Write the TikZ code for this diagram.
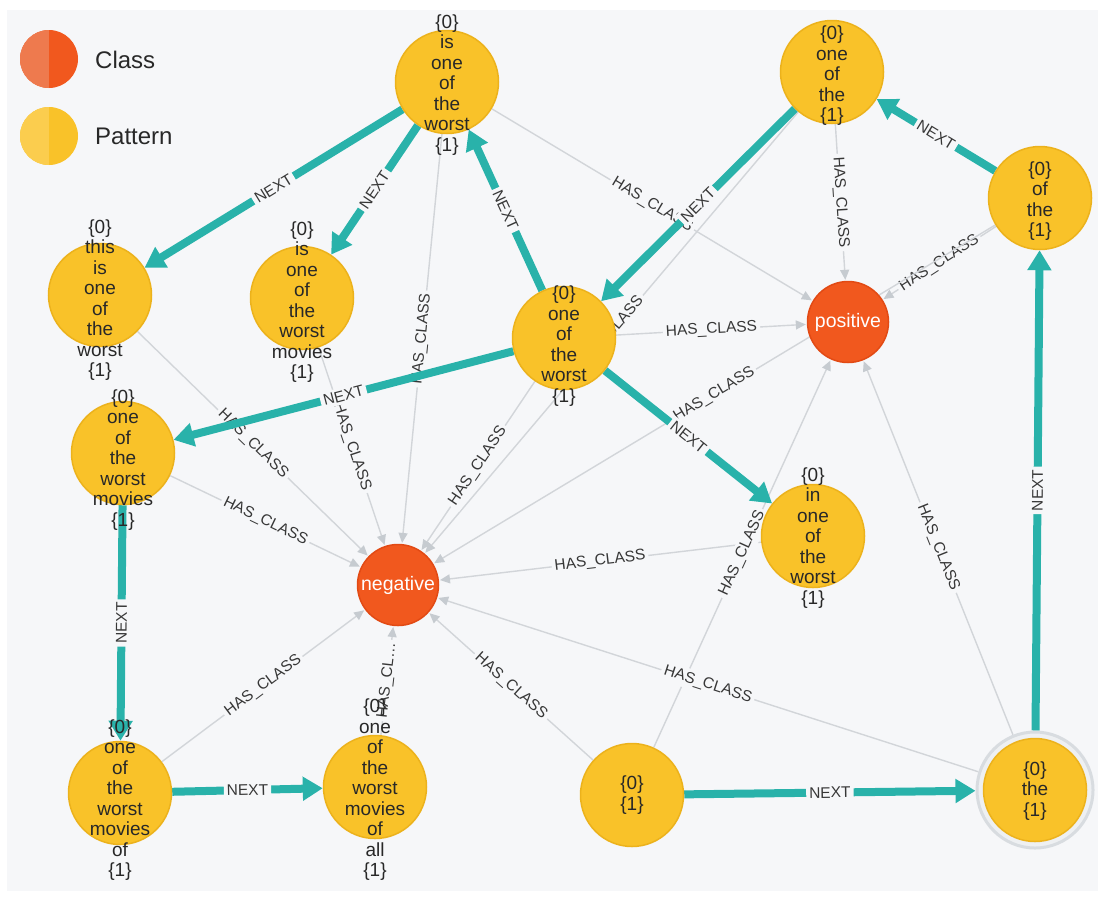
\documentclass[tikz,border=0pt]{standalone}
\usepackage{fontspec}
\setmainfont{Liberation Sans}
\usetikzlibrary{arrows.meta}
\definecolor{bg}{RGB}{246,247,249}
\definecolor{patfill}{RGB}{249,194,41}
\definecolor{patdraw}{RGB}{236,178,28}
\definecolor{patlight}{RGB}{251,205,78}
\definecolor{clsfill}{RGB}{241,88,30}
\definecolor{clsdraw}{RGB}{226,74,20}
\definecolor{clslight}{RGB}{238,122,78}
\definecolor{nextc}{RGB}{41,178,170}
\definecolor{hcline}{RGB}{210,213,217}
\definecolor{hcarrow}{RGB}{198,203,208}
\definecolor{txt}{RGB}{40,40,40}
\definecolor{lbltxt}{RGB}{55,55,55}
\definecolor{halo}{RGB}{216,220,224}
\definecolor{haloin}{RGB}{238,240,242}
\pgfdeclarelayer{bglayer}
\pgfdeclarelayer{edges}
\pgfsetlayers{bglayer,edges,main}
\begin{document}
\begin{tikzpicture}[x=1pt,y=-1pt,
  pat/.style={circle, fill=patfill, draw=patdraw, line width=1.5pt, minimum size=103pt, inner sep=0pt},
  cls/.style={circle, fill=clsfill, draw=clsdraw, line width=1.5pt, minimum size=81pt, inner sep=0pt, text=white, font=\fontsize{19.5}{21}\selectfont},
  ptext/.style={align=center, font=\fontsize{19}{20.5}\selectfont, text=txt, inner sep=0pt},
  nxt/.style={draw=nextc, line width=8pt, -{Triangle[length=20pt,width=23pt]}},
  hc/.style={draw=hcline, line width=1.4pt, -{Triangle[length=10pt,width=9pt,color=hcarrow]}, shorten >=1pt},
  lbl/.style={sloped, fill=bg, inner sep=3pt, font=\fontsize{15.5}{16}\selectfont, text=lbltxt},
  legtext/.style={anchor=west, font=\fontsize{24}{26}\selectfont, text=txt, inner sep=0pt}
]
\useasboundingbox (0,0) rectangle (1105,898);
\begin{pgfonlayer}{bglayer}
\fill[white] (0,0) rectangle (1105,898);
\fill[bg] (7,10) rectangle (1098,891);
\end{pgfonlayer}

% legend
\node[circle, fill=clsfill, minimum size=58pt, inner sep=0pt] (legC) at (49,59) {};
\begin{scope}
\clip (49,59) circle[radius=29];
\fill[clslight] (20,30) rectangle (49,88);
\end{scope}
\node[legtext] (legCt) at (95,60) {Class};
\node[circle, fill=patfill, minimum size=58pt, inner sep=0pt] (legP) at (49,136) {};
\begin{scope}
\clip (49,136) circle[radius=29];
\fill[patlight] (20,107) rectangle (49,165);
\end{scope}
\node[legtext] (legPt) at (95,136) {Pattern};

% class nodes
\node[cls] (pos) at (848,322) {positive};
\node[cls] (neg) at (398,585) {negative};

% pattern nodes
\node[pat] (A) at (447,82) {};
\node[ptext] (At) at (447,85) {\{0\}\\is\\one\\of\\the\\worst\\\{1\}};
\node[pat] (B) at (832,72) {};
\node[ptext] (Bt) at (832,76) {\{0\}\\one\\of\\the\\\{1\}};
\node[pat] (C) at (1040,198) {};
\node[ptext] (Ct) at (1040,201) {\{0\}\\of\\the\\\{1\}};
\node[pat] (D) at (100,295) {};
\node[ptext] (Dt) at (100,300) {\{0\}\\this\\is\\one\\of\\the\\worst\\\{1\}};
\node[pat] (E) at (302,298) {};
\node[ptext] (Et) at (302,302) {\{0\}\\is\\one\\of\\the\\worst\\movies\\\{1\}};
\node[pat] (F) at (564,338) {};
\node[ptext] (Ft) at (564,346) {\{0\}\\one\\of\\the\\worst\\\{1\}};
\node[pat] (G) at (123,453) {};
\node[ptext] (Gt) at (123,460) {\{0\}\\one\\of\\the\\worst\\movies\\\{1\}};
\node[pat] (H) at (813,536) {};
\node[ptext] (Ht) at (813,538) {\{0\}\\in\\one\\of\\the\\worst\\\{1\}};
\node[pat] (I) at (120,793) {};
\node[ptext] (It) at (120,800) {\{0\}\\one\\of\\the\\worst\\movies\\of\\\{1\}};
\node[pat] (J) at (375,787) {};
\node[ptext] (Jt) at (375,790) {\{0\}\\one\\of\\the\\worst\\movies\\of\\all\\\{1\}};
\node[pat] (K) at (632,795) {};
\node[ptext] (Kt) at (632,795) {\{0\}\\\{1\}};
\node[circle, fill=haloin, draw=halo, line width=3pt, minimum size=116pt, inner sep=0pt] (Lh) at (1035,790) {};
\node[pat] (L) at (1035,790) {};
\node[ptext] (Lt) at (1035,791) {\{0\}\\the\\\{1\}};

\begin{pgfonlayer}{edges}
% HAS_CLASS
\draw[hc] (A) -- node[lbl] {HAS\_CLASS} (pos);
\draw[hc] (A) -- node[lbl] {HAS\_CLASS} (neg);
\draw[hc] (B) -- node[lbl] {HAS\_CLASS} (pos);
\draw[hc] (B) -- node[lbl] {HAS\_CLASS} (neg);
\draw[hc] (C) -- node[lbl] {HAS\_CLASS} (pos);
\draw[hc] (C) -- node[lbl] {HAS\_CLASS} (neg);
\draw[hc] (D) -- node[lbl] {HAS\_CLASS} (neg);
\draw[hc] (E) -- node[lbl] {HAS\_CLASS} (neg);
\draw[hc] (F) -- node[lbl] {HAS\_CLASS} (pos);
\draw[hc] (F) -- node[lbl] {HAS\_CLASS} (neg);
\draw[hc] (G) -- node[lbl] {HAS\_CLASS} (neg);
\draw[hc] (H) -- node[lbl] {HAS\_CLASS} (neg);
\draw[hc] (I) -- node[lbl] {HAS\_CLASS} (neg);
\draw[hc] (J) -- node[lbl] {HAS\_CL\ldots} (neg);
\draw[hc] (K) -- node[lbl] {HAS\_CLASS} (pos);
\draw[hc] (K) -- node[lbl] {HAS\_CLASS} (neg);
\draw[hc] (Lh) -- node[lbl] {HAS\_CLASS} (pos);
\draw[hc] (Lh) -- node[lbl] {HAS\_CLASS} (neg);
% NEXT
\draw[nxt] (A) -- node[lbl] {NEXT} (D);
\draw[nxt] (A) -- node[lbl] {NEXT} (E);
\draw[nxt] (F) -- node[lbl] {NEXT} (A);
\draw[nxt] (B) -- node[lbl] {NEXT} (F);
\draw[nxt] (C) -- node[lbl] {NEXT} (B);
\draw[nxt] (F) -- node[lbl] {NEXT} (G);
\draw[nxt] (F) -- node[lbl] {NEXT} (H);
\draw[nxt] (G) -- node[lbl] {NEXT} (I);
\draw[nxt] (I) -- node[lbl] {NEXT} (J);
\draw[nxt] (K) -- node[lbl] {NEXT} (Lh);
\draw[nxt] (Lh) -- node[lbl] {NEXT} (C);
\end{pgfonlayer}
\end{tikzpicture}
\end{document}
